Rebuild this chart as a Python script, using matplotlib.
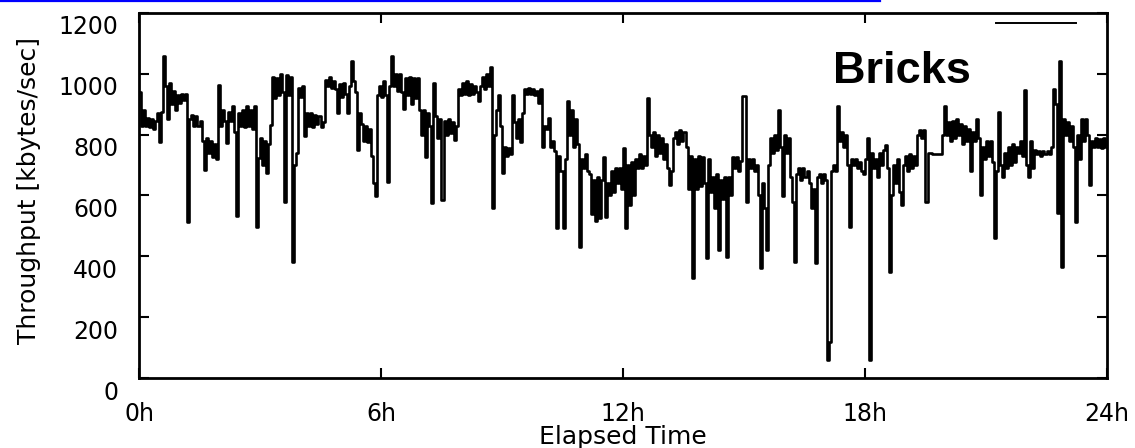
import numpy as np
import matplotlib
matplotlib.use("Agg")
import matplotlib.pyplot as plt
from matplotlib.lines import Line2D
from matplotlib.transforms import ScaledTranslation

# sampling interval of the throughput trace (hours) -> 3 minutes
interval_h = 0.05

# throughput [kbytes/sec], one value per 3-minute sample
throughput = [
    940, 830, 880, 830, 855, 825, 850, 820, 845, 870,
    775, 875, 1057, 960, 850, 970, 900, 945, 880, 930,
    905, 935, 915, 935, 514, 850, 865, 830, 860, 830,
    845, 780, 684, 790, 740, 780, 725, 770, 720, 964,
    830, 880, 845, 772, 875, 845, 895, 810, 531, 870,
    830, 880, 825, 895, 830, 880, 820, 895, 498, 723,
    790, 700, 780, 675, 770, 832, 990, 920, 985, 930,
    1000, 940, 580, 995, 930, 990, 383, 700, 740, 955,
    925, 960, 794, 870, 830, 870, 825, 865, 835, 860,
    825, 840, 980, 960, 990, 955, 975, 950, 870, 965,
    925, 970, 935, 871, 960, 1041, 975, 940, 750, 870,
    835, 780, 830, 775, 820, 730, 640, 597, 930, 960,
    925, 975, 930, 646, 960, 1057, 960, 1000, 945, 1000,
    940, 885, 985, 930, 990, 900, 985, 920, 985, 880,
    800, 880, 728, 870, 830, 575, 969, 860, 790, 850,
    586, 845, 800, 850, 805, 840, 783, 830, 950, 930,
    970, 935, 975, 930, 965, 935, 960, 940, 910, 960,
    990, 950, 1000, 960, 1024, 558, 800, 880, 931, 830,
    673, 760, 730, 755, 735, 931, 840, 790, 850, 775,
    870, 950, 935, 955, 935, 950, 930, 945, 905, 950,
    761, 830, 820, 854, 760, 780, 745, 492, 730, 680,
    492, 720, 912, 800, 880, 760, 850, 770, 432, 720,
    690, 735, 680, 670, 540, 650, 515, 660, 525, 650,
    728, 530, 640, 600, 680, 610, 690, 640, 690, 620,
    756, 492, 700, 570, 710, 600, 720, 690, 735, 690,
    730, 700, 920, 800, 760, 810, 730, 800, 740, 790,
    720, 770, 690, 635, 680, 790, 810, 770, 815, 780,
    810, 760, 620, 730, 328, 720, 620, 730, 630, 725,
    640, 394, 720, 610, 660, 560, 670, 421, 650, 590,
    660, 399, 660, 600, 728, 690, 725, 680, 715, 926,
    926, 580, 720, 690, 720, 680, 700, 600, 361, 640,
    560, 421, 700, 790, 740, 800, 750, 882, 760, 597,
    800, 740, 790, 660, 580, 383, 670, 690, 650, 690,
    660, 680, 640, 560, 620, 377, 660, 670, 640, 670,
    650, 59, 120, 680, 700, 680, 893, 780, 810, 760,
    800, 700, 498, 720, 700, 720, 690, 710, 680, 670,
    720, 790, 59, 740, 690, 720, 660, 740, 700, 750,
    765, 690, 350, 600, 700, 640, 720, 610, 570, 700,
    730, 680, 735, 690, 730, 700, 800, 815, 790, 815,
    580, 740, 740, 735, 735, 735, 735, 735, 800, 893,
    800, 840, 780, 845, 790, 850, 800, 835, 770, 830,
    780, 820, 679, 810, 780, 850, 790, 602, 760, 720,
    780, 730, 780, 710, 459, 680, 876, 700, 660, 740,
    690, 760, 700, 770, 710, 760, 740, 780, 730, 948,
    700, 660, 780, 690, 750, 735, 745, 730, 745, 735,
    745, 735, 760, 950, 900, 542, 1041, 366, 850, 800,
    840, 780, 830, 760, 514, 800, 720, 850, 780, 850,
    800, 635, 780, 760, 790, 760, 785, 755, 790, 760,
    780,
]
hours = np.arange(len(throughput)) * interval_h

xticks = [0, 6, 12, 18, 24]
xticklabels = ["0h", "6h", "12h", "18h", "24h"]
yticks = [0, 200, 400, 600, 800, 1000, 1200]

W, H = 1135, 448
fig = plt.figure(figsize=(W / 100, H / 100), dpi=100)
ax = fig.add_axes([139 / W, 70 / H, 968 / W, 365 / H])

ax.plot(hours, throughput, color="black", lw=1.9, drawstyle="steps-post")
ax.set_xlim(0, 24)
ax.set_ylim(0, 1200)
ax.set_xticks(xticks)
ax.set_xticklabels(xticklabels)
ax.set_yticks(yticks)
ax.tick_params(direction="in", length=7.2, width=1.5, top=True, right=True,
               labelsize=17, colors="black")
ax.tick_params(axis="y", pad=15)
ax.tick_params(axis="x", pad=17)
for s in ax.spines.values():
    s.set_linewidth(2)

offset = ScaledTranslation(0, -12 / 100, fig.dpi_scale_trans)
for lbl in ax.get_yticklabels():
    lbl.set_transform(lbl.get_transform() + offset)

ax.set_xlabel("Elapsed Time", fontsize=18)
ax.xaxis.set_label_coords(0.5, -0.128)
ax.set_ylabel("Throughput [kbytes/sec]", fontsize=18)
ax.yaxis.set_label_coords(-0.101, 0.515)

fig.text(833 / W, 1 - 83 / H, "Bricks", fontsize=32.5, fontweight="bold",
         family="Liberation Sans", ha="left", va="baseline")
fig.add_artist(Line2D([996 / W, 1076 / W], [1 - 23 / H] * 2, color="black", lw=1.4))
fig.add_artist(Line2D([0, 880 / W], [1 - 1.2 / H] * 2, color="#0000ff", lw=1.6))

fig.savefig("out.png", dpi=100)
